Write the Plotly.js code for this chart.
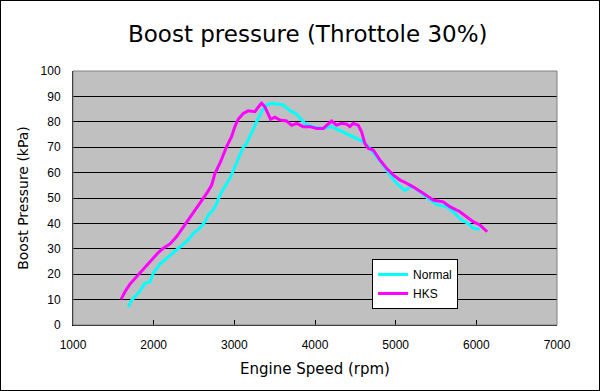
<!DOCTYPE html>
<html><head><meta charset="utf-8">
<script src="https://cdn.plot.ly/plotly-3.0.1.min.js"></script>
<style>
html,body{margin:0;padding:0;background:#fff;}
#wrap{position:relative;width:600px;height:391px;}
#chart{width:600px;height:391px;}
#frame{position:absolute;left:0;top:0;width:600px;height:391px;box-sizing:border-box;border:1px solid #000;pointer-events:none;}
</style></head>
<body>
<div id="wrap"><div id="chart"></div><div id="frame"></div></div>
<script>
const normalRpm = [1686,1727,1809,1892,1954,1995,2078,2161,2243,2326,2429,2491,2574,2636,2677,2739,2781,2822,2884,2946,3007,3069,3110,3152,3214,3276,3338,3400,3462,3524,3606,3689,3772,3875,3978,4102,4205,4309,4432,4535,4597,4680,4763,4845,4928,5011,5114,5197,5300,5424,5527,5630,5713,5816,5899,5961,6044];
const normalKpa = [7,9.8,12.5,16.4,17,20.4,24,26.3,28.5,30.8,33.5,36.1,38.1,40.7,43.3,45.3,47.9,51.2,54.4,57.8,62.3,66.9,70,71.5,76.1,80,84,86.6,87.3,87,86.6,84.4,83,79.3,78.1,77.4,78.1,76.5,74.8,73.1,72.2,69.6,66.3,63,59.1,55.8,52.9,54.7,52.5,49.2,47.2,46.6,44.6,41.3,40,38.1,37.7];
const hksRpm = [1595,1644,1706,1789,1851,1954,2057,2119,2202,2285,2388,2491,2574,2657,2719,2760,2822,2862,2904,2966,3007,3048,3110,3172,3255,3317,3338,3379,3420,3449,3503,3565,3648,3710,3772,3854,3937,4020,4102,4205,4267,4329,4391,4432,4473,4535,4577,4618,4659,4721,4804,4887,4969,5052,5135,5217,5341,5465,5589,5672,5796,5878,5961,6044,6134];
const hksKpa = [10.1,13.1,16.1,19,21.4,24.9,28.5,30.2,31.9,34.8,39.4,44,47.9,51.8,55.1,59.7,63.7,66.9,70.2,74.1,78.1,81,83.3,84.3,84,86.6,87.3,85.9,83.3,81,81.8,80.7,80.3,78.6,79.4,78.1,78.1,77.4,77.4,80.3,78.7,79.4,79.1,78.1,79.4,78.7,76.1,71.5,69.6,68.9,65,61.7,59.1,57.1,55.8,54.4,51.9,49.2,48.5,46.6,44.6,42.6,40.7,39.4,36.7];
const seriesNames = ['Normal','HKS'];
const xTicks = [1000,2000,3000,4000,5000,6000,7000];
const yTicks = [0,10,20,30,40,50,60,70,80,90,100];

const tickFont = {family:'Liberation Sans, Arial, sans-serif', size:12, color:'#000'};
const data = [
  {x:normalRpm, y:normalKpa, name:seriesNames[0], mode:'lines', line:{color:'#00FFFF', width:3}},
  {x:hksRpm, y:hksKpa, name:seriesNames[1], mode:'lines', line:{color:'#FF00FF', width:3}}
];
const layout = {
  width:600, height:391,
  margin:{l:73, r:43, t:71, b:66},
  paper_bgcolor:'#fff', plot_bgcolor:'#C0C0C0',
  title:{text:'Boost pressure (Throttole 30%)', x:0.513, xref:'container', y:0.913, yanchor:'middle',
    font:{family:'DejaVu Sans, sans-serif', size:23, color:'#000'}},
  xaxis:{range:[1000,7000], tickvals:xTicks, ticktext:xTicks.map(String), ticks:'inside', ticklen:5, tickcolor:'#000',
    showgrid:false, zeroline:false, showline:true, linecolor:'#000', linewidth:1, mirror:false,
    tickfont:tickFont, ticklabelstandoff:9, fixedrange:true,
    title:{text:'Engine Speed (rpm)', font:{family:'DejaVu Sans, sans-serif', size:15, color:'#000'}, standoff:12}},
  yaxis:{range:[0,100], tickvals:yTicks, ticktext:yTicks.map(String), ticks:'', showgrid:true, gridcolor:'#000', gridwidth:1,
    zeroline:false, showline:true, linecolor:'#000', linewidth:1, tickfont:tickFont, ticklabelstandoff:9, fixedrange:true,
    title:{text:'Boost Pressure (kPa)', font:{family:'DejaVu Sans, sans-serif', size:14, color:'#000'}, standoff:8}},
  shapes:[{type:'rect', xref:'paper', yref:'paper', x0:0, x1:1, y0:0, y1:1, line:{color:'#808080', width:1}, fillcolor:'rgba(0,0,0,0)'}],
  legend:{x:0.618, y:0.26, xanchor:'left', yanchor:'top', bgcolor:'#fff', bordercolor:'#000', borderwidth:1,
    font:{family:'Liberation Sans, Arial, sans-serif', size:12, color:'#000'}, tracegroupgap:0, itemwidth:30},
  showlegend:true
};
Plotly.newPlot('chart', data, layout, {displayModeBar:false, staticPlot:true});
</script>
</body></html>
